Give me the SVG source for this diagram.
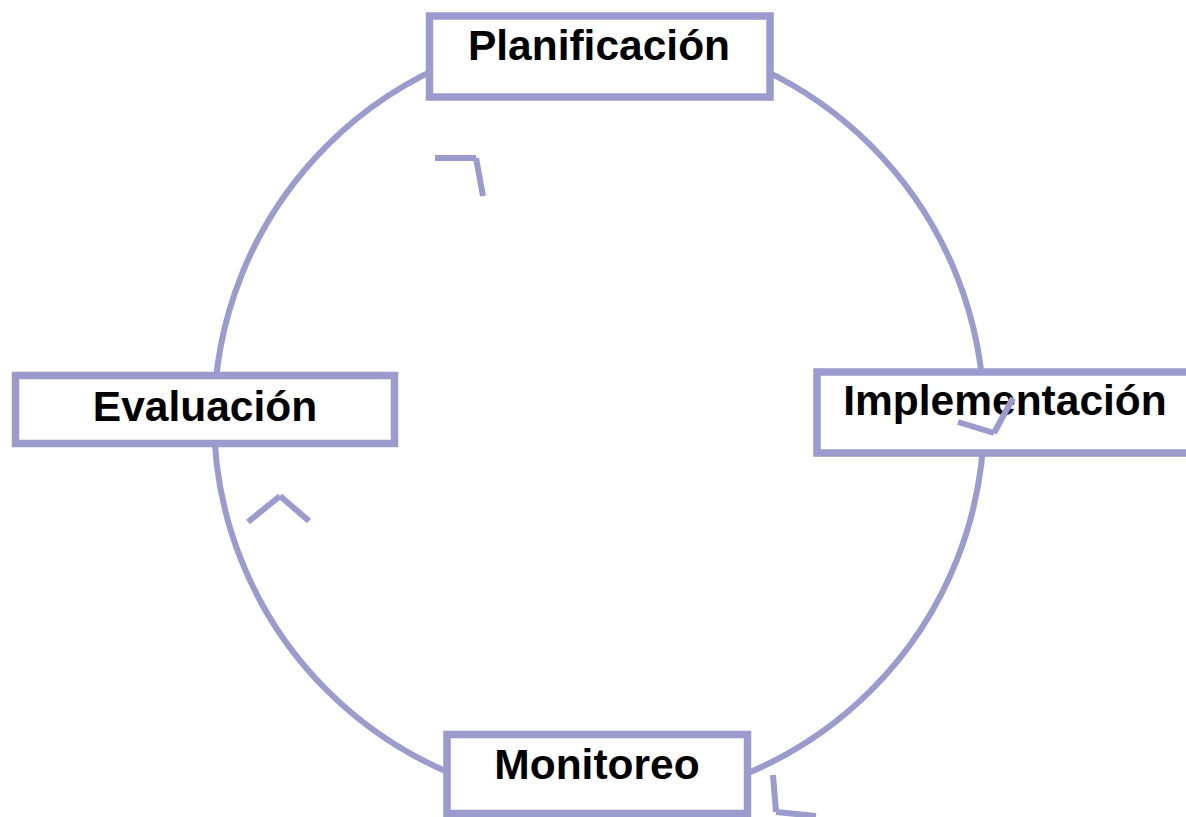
<svg xmlns="http://www.w3.org/2000/svg" width="1186" height="817" viewBox="0 0 1186 817">
<style>
.ln{fill:none;stroke:#9b9bcd;stroke-width:6;stroke-linecap:butt}
.box{fill:#fff;stroke:#9b9bcd;stroke-width:7.5}
.lbl{font-family:"Liberation Sans",Arial,sans-serif;font-weight:bold;font-size:42.5px;fill:#000;text-anchor:middle}
</style>
<rect width="1186" height="817" fill="#fff"/>
<g id="connectors">
<circle class="ln" cx="599" cy="418" r="385"/>
</g>
<g id="planificacion">
<rect class="box" x="429.5" y="16" width="340.5" height="81"/>
<text class="lbl" x="599" y="60">Planificación</text>
</g>
<g id="evaluacion">
<rect class="box" x="15.5" y="375.5" width="379" height="68"/>
<text class="lbl" x="205" y="421">Evaluación</text>
</g>
<g id="implementacion">
<rect class="box" x="817" y="372" width="376" height="81"/>
<text class="lbl" x="1005" y="415">Implementación</text>
</g>
<g id="monitoreo">
<rect class="box" x="447" y="734.5" width="300.5" height="79"/>
<text class="lbl" x="597" y="779">Monitoreo</text>
</g>
<g id="arrowheads">
<path class="ln" d="M435,158 L476,158"/>
<path class="ln" d="M476,158 L483,196"/>
<path class="ln" d="M248,522 L280,496"/>
<path class="ln" d="M280,496 L309,521"/>
<path class="ln" d="M958,422 L994,433"/>
<path class="ln" d="M994,433 L1013,398"/>
<path class="ln" d="M773,775 L776,812"/>
<path class="ln" d="M776,812 L816,816"/>
</g>
</svg>
